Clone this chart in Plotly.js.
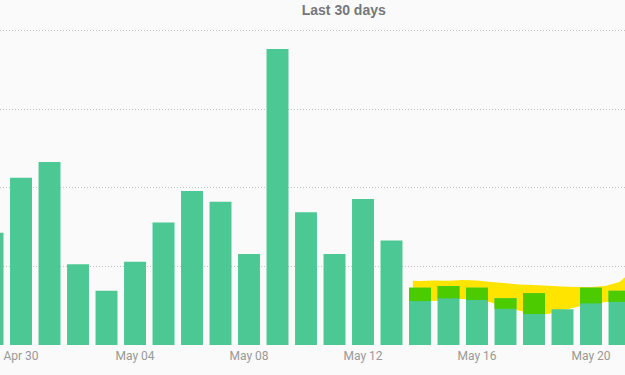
<!DOCTYPE html>
<html>
<head>
<meta charset="utf-8">
<script src="https://cdn.plot.ly/plotly-3.0.1.min.js"></script>
<style>
html, body { margin: 0; padding: 0; background: #fafafa; }
#chart { width: 625px; height: 375px; }
</style>
</head>
<body>
<div id="chart"></div>
<script>
// Daily values (bars)
const days = [
  '2024-04-29','2024-04-30','2024-05-01','2024-05-02','2024-05-03','2024-05-04',
  '2024-05-05','2024-05-06','2024-05-07','2024-05-08','2024-05-09','2024-05-10',
  '2024-05-11','2024-05-12','2024-05-13','2024-05-14','2024-05-15','2024-05-16',
  '2024-05-17','2024-05-18','2024-05-19','2024-05-20','2024-05-21'
];
const counts = [
  14.3, 21.3, 23.3, 10.3, 6.9, 10.6,
  15.6, 19.6, 18.25, 11.6, 37.7, 16.9,
  11.6, 18.6, 13.3, 7.3, 7.5, 7.3,
  5.95, 6.6, 4.55, 7.3, 6.9
];

// Expected range band
const bandX = [
  '2024-05-13 18:00','2024-05-14 00:00','2024-05-14 12:00','2024-05-15 00:00',
  '2024-05-15 12:00','2024-05-16 00:00','2024-05-16 12:00','2024-05-17 00:00',
  '2024-05-17 12:00','2024-05-18 00:00','2024-05-18 12:00','2024-05-19 00:00',
  '2024-05-19 12:00','2024-05-20 00:00','2024-05-20 12:00','2024-05-21 00:00',
  '2024-05-21 06:00','2024-05-21 12:00'
];
const bandUpper = [
  8.19, 8.15, 8.22, 8.19, 8.28, 8.22, 8.03, 7.83, 7.71,
  7.64, 7.52, 7.45, 7.39, 7.39, 7.52, 8.03, 8.79, 9.30
];
const bandLower = [
  6.37, 5.73, 5.61, 5.80, 5.86, 5.73, 5.41, 4.71, 4.33,
  4.01, 3.95, 4.39, 4.84, 5.22, 5.48, 5.54, 5.61, 5.61
];

// Part of each recent bar that lies inside the band (day, lower edge of band at that bar)
const inBandDays = ['2024-05-14','2024-05-15','2024-05-16','2024-05-17','2024-05-18','2024-05-20','2024-05-21'];
const inBandLow = [5.6, 5.95, 5.73, 4.6, 3.95, 5.3, 5.5];

// Axis ticks
const tickDates = ['2024-04-30','2024-05-04','2024-05-08','2024-05-12','2024-05-16','2024-05-20'];
const tickLabels = ['Apr 30','May 04','May 08','May 12','May 16','May 20'];

const polyX = bandX.concat(bandX.slice().reverse());
const polyY = bandUpper.concat(bandLower.slice().reverse());
const inBandTop = inBandDays.map(d => counts[days.indexOf(d)]);
const inBandLen = inBandTop.map((t, i) => t - inBandLow[i]);

const traces = [
  {
    type: 'scatter', x: polyX, y: polyY, mode: 'lines', fill: 'toself',
    fillcolor: '#ffe400', line: { width: 0, color: '#ffe400' },
    hoverinfo: 'skip', showlegend: false, zorder: -1
  },
  {
    type: 'bar', x: days, y: counts, marker: { color: '#4cc894', line: { width: 0 } },
    showlegend: false, zorder: 0
  },
  {
    type: 'bar', x: inBandDays, y: inBandLen, base: inBandLow,
    marker: { color: '#4ccb00', line: { width: 0 } },
    showlegend: false, zorder: 1
  }
];

const layout = {
  width: 625, height: 375,
  margin: { l: 0, r: 0, t: 25, b: 30 },
  paper_bgcolor: '#fafafa', plot_bgcolor: '#fafafa',
  bargap: 0.23,
  barmode: 'overlay',
  showlegend: false,
  title: {
    text: '<b>Last 30 days</b>',
    font: { family: 'Liberation Sans, Arial, sans-serif', size: 14, color: '#777777' },
    x: 0.55, xanchor: 'center', xref: 'paper',
    y: 0.985, yanchor: 'top', yref: 'container'
  },
  xaxis: {
    type: 'date',
    range: ['2024-04-29 06:18', '2024-05-21 04:38'],
    tickmode: 'array', tickvals: tickDates, ticktext: tickLabels,
    showgrid: false, zeroline: false, showline: false, ticks: '',
    ticklabelstandoff: 2,
    tickfont: { family: 'Roboto, sans-serif', size: 12, color: '#999999' }
  },
  yaxis: {
    range: [0, 40.76], dtick: 10, tick0: 0,
    showticklabels: false, zeroline: false, showline: false,
    gridcolor: '#c4c4c4', griddash: '1px,2px', gridwidth: 1
  }
};

Plotly.newPlot('chart', traces, layout, { displayModeBar: false, staticPlot: true });
</script>
</body>
</html>
